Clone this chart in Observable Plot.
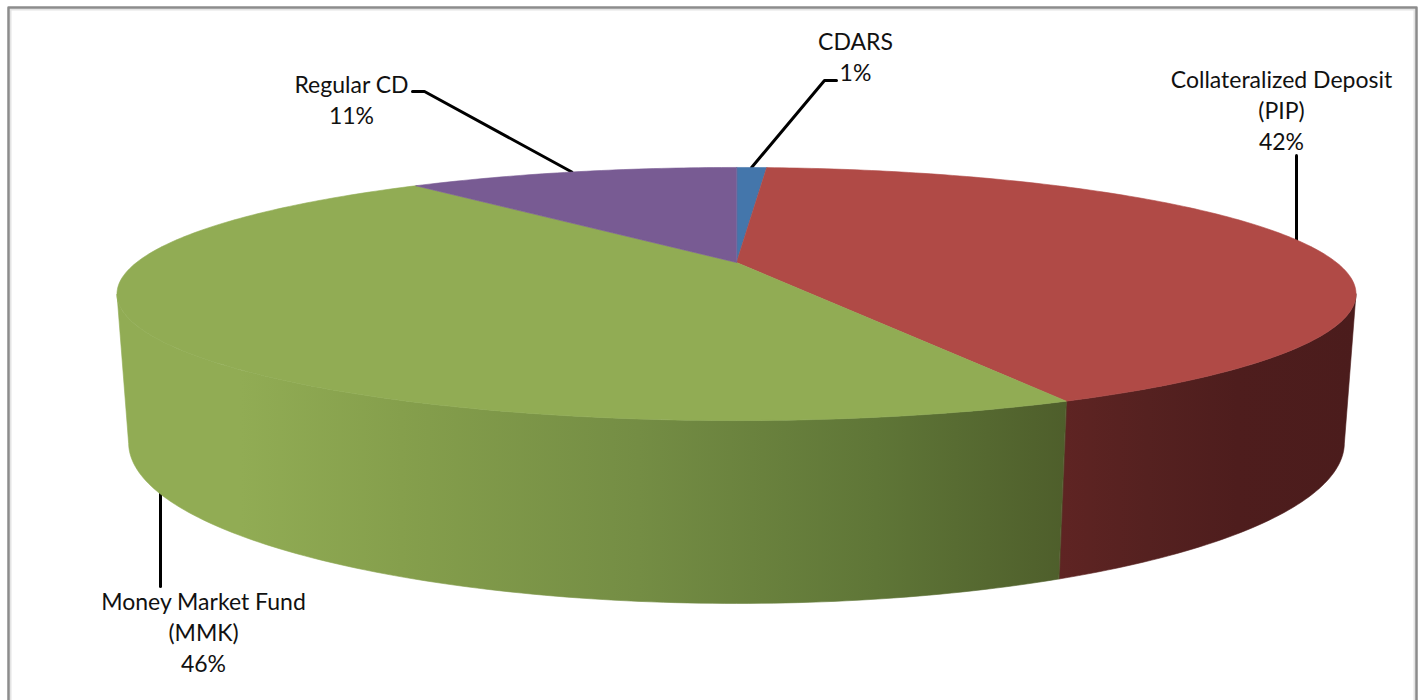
<!DOCTYPE html>
<html>
<head>
<meta charset="utf-8">
<script src="https://cdn.jsdelivr.net/npm/d3@7"></script>
<script src="https://cdn.jsdelivr.net/npm/@observablehq/plot@0.6"></script>
<style>
  html, body { margin: 0; padding: 0; background: #fff; }
  svg { display: block; }
</style>
</head>
<body>
<div id="chart"></div>
<script>
// Portfolio split, in clockwise order starting at twelve o'clock.
const categories = ["CDARS", "Collateralized Deposit\n(PIP)", "Money Market Fund\n(MMK)", "Regular CD"];
const shares = [1, 42, 46, 11];
const topColors = ["#4476AB", "#B04A46", "#91AC54", "#785B93"];

// Colour ramps for the visible outer walls, left to right.
const greenWall = [[0, "#91AC54"], [0.13, "#91AC54"], [0.3, "#859F4C"], [0.55, "#748D44"], [0.8, "#5F7637"], [1, "#4E5E2B"]];
const redWall = [[0, "#5F2423"], [0.3, "#552120"], [0.6, "#4E1D1D"], [1, "#4B1C1C"]];

// Camera parameters of the tilted disc, in pixels.
const camera = {cx: 736, cy: 262, a: 600, b: 118.7, drop: 143.5, p: 0.249, q: 0.018};

// Maps a clockwise share position (percent) at rim height z (0 top, 1 bottom) to the page.
function rim(percent, z = 0) {
  const t = (percent / 100) * 2 * Math.PI;
  const X = Math.sin(t), Y = Math.cos(t);
  const w = 1 + camera.p * Y + camera.q * z;
  return {x: camera.cx + (camera.a * X) / w, y: camera.cy + (-camera.b * Y + camera.drop * z) / w};
}

function arc(from, to, z) {
  const n = Math.max(2, Math.ceil(Math.abs(to - from) * 4));
  return d3.range(n + 1).map((i) => rim(from + ((to - from) * i) / n, z));
}

const ends = d3.cumsum(shares);
const starts = ends.map((e, i) => e - shares[i]);
const mids = ends.map((e, i) => e - shares[i] / 2);
const apex = {x: camera.cx, y: camera.cy};

// The disc's silhouette, where the wall turns out of sight on each side.
const silhouette = (Math.acos(-camera.p) / (2 * Math.PI)) * 100;

const topFaces = shares.map((_, i) => [apex, ...arc(starts[i], ends[i], 0)]);
const wall = (from, to) => [...arc(from, to, 0), ...arc(to, from, 1)];

// Text block placement and the elbow of each leader line.
const labelAt = [
  {x: 855, y: 27}, {x: 1281, y: 65}, {x: 203, y: 587}, {x: 351, y: 70}
];
const leaders = [
  [rim(mids[0]), {x: 824, y: 80}, {x: 836, y: 80}],
  [{x: 1296, y: rim(mids[1]).y + 4}, {x: 1296, y: 155}],
  [{x: 160, y: rim(mids[2], 1).y - 8}, {x: 160, y: 586}],
  [rim(mids[3]), {x: 424, y: 91}, {x: 412, y: 91}]
];
const labels = categories.map((c, i) => ({text: `${c}\n${shares[i]}%`, ...labelAt[i]}));
const frameLine = [{x: 8, y: 720}, {x: 8, y: 7}, {x: 1416, y: 7}, {x: 1416, y: 720}];
const frameGlow = [{x: 10, y: 720}, {x: 10, y: 9}, {x: 1414, y: 9}, {x: 1414, y: 720}];

function gradient(id, stops) {
  return `<linearGradient id="${id}" x1="0" x2="1" y1="0" y2="0">` +
    stops.map(([o, c]) => `<stop offset="${o}" stop-color="${c}"/>`).join("") + "</linearGradient>";
}
const defsMark = () => {
  const d = document.createElementNS("http://www.w3.org/2000/svg", "defs");
  d.innerHTML = gradient("greenWall", greenWall) + gradient("redWall", redWall);
  return d;
};

const polygon = (points, fill) =>
  Plot.line(points, {x: "x", y: "y", fill, stroke: fill, strokeWidth: 0.6, curve: "linear-closed"});

const plot = Plot.plot({
  width: 1423,
  height: 700,
  margin: 0,
  style: {background: "#fff"},
  x: {axis: null, domain: [0, 1423], range: [0, 1423]},
  y: {axis: null, domain: [0, 700], range: [0, 700]},
  marks: [
    defsMark,
    Plot.line(frameGlow, {x: "x", y: "y", stroke: "#e4e4e4", strokeWidth: 2}),
    Plot.line(frameLine, {x: "x", y: "y", stroke: "#8c8c8c", strokeWidth: 2.5}),
    ...leaders.map((points) =>
      Plot.line(points, {x: "x", y: "y", stroke: "#000", strokeWidth: 3, strokeLinejoin: "round"})
    ),
    // Outer walls between the silhouette points and the red/green boundary.
    polygon(wall(silhouette, ends[1]), "url(#redWall)"),
    polygon(wall(ends[1], 100 - silhouette), "url(#greenWall)"),
    ...topFaces.map((face, i) => polygon(face, topColors[i])),
    Plot.text(labels, {
      x: "x",
      y: "y",
      text: "text",
      lineAnchor: "top",
      lineHeight: 1.35,
      fontSize: 23,
      fontFamily: "Lato, Carlito, sans-serif",
      fill: "#111"
    })
  ]
});
document.getElementById("chart").append(plot);
</script>
</body>
</html>
